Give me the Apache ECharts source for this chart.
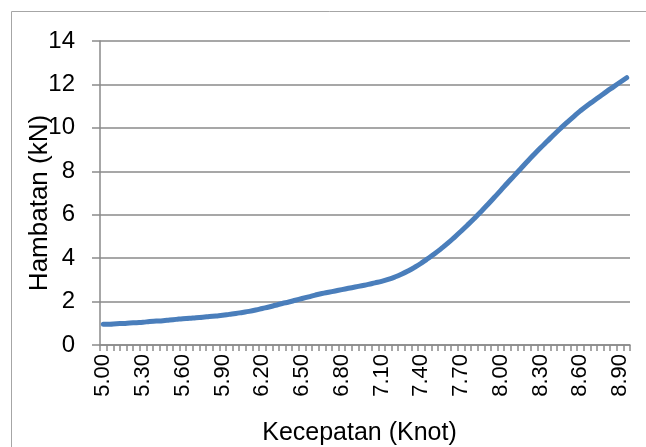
<!DOCTYPE html>
<html>
<head>
<meta charset="utf-8">
<script src="https://cdn.jsdelivr.net/npm/echarts@6/dist/echarts.min.js"></script>
<style>
  html, body { margin: 0; padding: 0; background: #fff; }
  #chart { width: 646px; height: 447px; }
</style>
</head>
<body>
<div id="chart"></div>
<script>
// Speed (knot), 0.05 steps
const speeds = [
  '5.00','5.05','5.10','5.15','5.20','5.25','5.30','5.35','5.40','5.45',
  '5.50','5.55','5.60','5.65','5.70','5.75','5.80','5.85','5.90','5.95',
  '6.00','6.05','6.10','6.15','6.20','6.25','6.30','6.35','6.40','6.45',
  '6.50','6.55','6.60','6.65','6.70','6.75','6.80','6.85','6.90','6.95',
  '7.00','7.05','7.10','7.15','7.20','7.25','7.30','7.35','7.40','7.45',
  '7.50','7.55','7.60','7.65','7.70','7.75','7.80','7.85','7.90','7.95',
  '8.00','8.05','8.10','8.15','8.20','8.25','8.30','8.35','8.40','8.45',
  '8.50','8.55','8.60','8.65','8.70','8.75','8.80','8.85','8.90','8.95'
];

// Resistance (kN) at each speed
const resistance = [
  0.95, 0.96, 0.98, 0.99, 1.01, 1.03, 1.05, 1.08, 1.10, 1.12,
  1.15, 1.18, 1.21, 1.23, 1.26, 1.28, 1.31, 1.34, 1.37, 1.41,
  1.45, 1.50, 1.55, 1.61, 1.68, 1.75, 1.83, 1.91, 1.98, 2.06,
  2.14, 2.22, 2.30, 2.37, 2.43, 2.49, 2.55, 2.61, 2.67, 2.73,
  2.79, 2.86, 2.93, 3.02, 3.13, 3.26, 3.41, 3.58, 3.77, 3.98,
  4.20, 4.44, 4.69, 4.96, 5.24, 5.53, 5.83, 6.14, 6.46, 6.79,
  7.12, 7.46, 7.79, 8.12, 8.45, 8.77, 9.08, 9.38, 9.68, 9.97,
  10.25, 10.52, 10.78, 11.02, 11.24, 11.46, 11.68, 11.89, 12.10, 12.31
];

// Value-axis range
const yMin = 0;
const yMax = 14;
const yStep = 2;

const xTitle = 'Kecepatan (Knot)';
const yTitle = 'Hambatan (kN)';

const font = 'Liberation Sans, Arial, sans-serif';
const gray = '#8a8a8a';

const chart = echarts.init(document.getElementById('chart'), null, { renderer: 'canvas' });

chart.setOption({
  animation: false,
  backgroundColor: '#ffffff',
  graphic: [{
    type: 'rect',
    shape: { x: 11.5, y: 11.5, width: 700, height: 500 },
    style: { fill: 'none', stroke: '#a6a6a6', lineWidth: 1 },
    silent: true,
    z: -1
  }],
  grid: {
    left: 100, right: 16, top: 41, bottom: 102,
    containLabel: false,
    outerBoundsMode: 'none'
  },
  xAxis: {
    type: 'category',
    data: speeds,
    boundaryGap: true,
    name: xTitle,
    nameLocation: 'middle',
    nameGap: 76,
    nameMoveOverlap: false,
    nameTextStyle: { fontFamily: font, fontSize: 25, color: '#000', padding: [0, 11, 0, 0] },
    axisLine: { lineStyle: { color: gray, width: 1.5 } },
    axisTick: { show: true, interval: 0, length: 6, lineStyle: { color: gray, width: 1.5 } },
    axisLabel: {
      interval: 5,
      rotate: 90,
      margin: 9,
      fontFamily: font,
      fontSize: 22,
      color: '#000'
    },
    splitLine: { show: false }
  },
  yAxis: {
    type: 'value',
    min: yMin,
    max: yMax,
    interval: yStep,
    name: yTitle,
    nameLocation: 'middle',
    nameRotate: 90,
    nameGap: 47,
    nameMoveOverlap: false,
    nameTextStyle: { fontFamily: font, fontSize: 26, color: '#000', padding: [0, 20, 0, 0] },
    axisLine: { show: true, lineStyle: { color: gray, width: 1.5 } },
    axisTick: { show: true, length: 8, lineStyle: { color: gray, width: 1.5 } },
    axisLabel: { margin: 25, fontFamily: font, fontSize: 24, color: '#000' },
    splitLine: { show: true, lineStyle: { color: gray, width: 1.5 } }
  },
  series: [{
    type: 'line',
    data: resistance,
    smooth: true,
    showSymbol: false,
    lineStyle: { color: '#4a7ebb', width: 5, cap: 'round', join: 'round' },
    itemStyle: { color: '#4a7ebb' }
  }]
});
</script>
</body>
</html>
